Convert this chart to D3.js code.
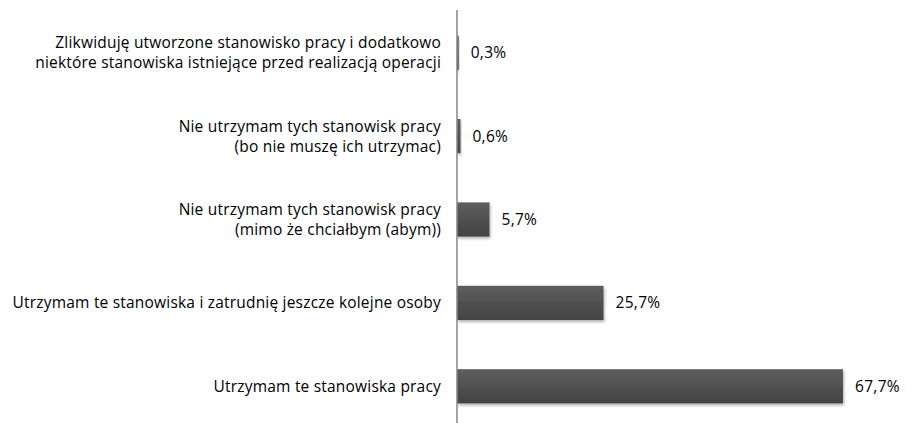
<!DOCTYPE html>
<html>
<head>
<meta charset="utf-8">
<script src="https://cdn.jsdelivr.net/npm/d3@7"></script>
<style>
  body { margin: 0; background: #fff; }
  svg { display: block; font-family: "Open Sans", sans-serif; }
</style>
</head>
<body>
<svg id="chart"></svg>
<script>
var categories = [
    ["Zlikwiduję utworzone stanowisko pracy i dodatkowo", "niektóre stanowiska istniejące przed realizacją operacji"],
    ["Nie utrzymam tych stanowisk pracy", "(bo nie muszę ich utrzymac)"],
    ["Nie utrzymam tych stanowisk pracy", "(mimo że chciałbym (abym))"],
    ["Utrzymam te stanowiska i zatrudnię jeszcze kolejne osoby"],
    ["Utrzymam te stanowiska pracy"]
]
var values = [0.3, 0.6, 5.7, 25.7, 67.7]
var valueLabels = ["0,3%", "0,6%", "5,7%", "25,7%", "67,7%"]

var dimensions = {
    width: 907,
    height: 423,
    margin: { top: 11, bottom: -5, left: 457, right: 50 }
}
var fontSize = 15.5

var svg = d3.select("#chart")
    .attr("width", dimensions.width)
    .attr("height", dimensions.height)

var defs = svg.append("defs")
var grad = defs.append("linearGradient")
    .attr("id", "barGrad")
    .attr("x1", 0).attr("y1", 0).attr("x2", 0).attr("y2", 1)
grad.append("stop").attr("offset", "0%").attr("stop-color", "#5e5e5e")
grad.append("stop").attr("offset", "100%").attr("stop-color", "#434343")

var shadow = defs.append("filter")
    .attr("id", "shadow")
    .attr("x", "-10%").attr("y", "-20%").attr("width", "130%").attr("height", "160%")
shadow.append("feDropShadow")
    .attr("dx", 1).attr("dy", 2).attr("stdDeviation", 1.5)
    .attr("flood-color", "#000").attr("flood-opacity", 0.3)

var idx = d3.range(values.length)

var xScale = d3.scaleLinear()
    .domain([0, 67.7])
    .range([dimensions.margin.left, 843])

var yScale = d3.scaleBand()
    .domain(idx)
    .range([dimensions.margin.top, dimensions.height - dimensions.margin.bottom])
    .paddingInner(0.59)
    .paddingOuter(0.295)

var bars = svg.append("g")
    .selectAll("rect")
    .data(idx)
    .enter()
    .append("rect")
    .attr("x", xScale(0))
    .attr("y", i => yScale(i))
    .attr("width", i => Math.max(1, xScale(values[i]) - xScale(0)))
    .attr("height", yScale.bandwidth())
    .attr("fill", "url(#barGrad)")
    .attr("filter", "url(#shadow)")

var valueText = svg.append("g")
    .selectAll("text")
    .data(idx)
    .enter()
    .append("text")
    .attr("x", i => xScale(values[i]) + 12)
    .attr("y", i => yScale(i) + yScale.bandwidth() / 2)
    .attr("dy", "0.35em")
    .attr("font-size", fontSize)
    .attr("letter-spacing", 0.3)
    .attr("fill", "#000")
    .text(i => valueLabels[i])

var catText = svg.append("g")
    .selectAll("text")
    .data(idx)
    .enter()
    .append("text")
    .attr("text-anchor", "end")
    .attr("font-size", fontSize)
    .attr("letter-spacing", 0.2)
    .attr("fill", "#000")
    .attr("y", i => yScale(i) + yScale.bandwidth() / 2)
catText.each(function(i) {
    var lines = categories[i]
    var t = d3.select(this)
    lines.forEach((line, k) => {
        t.append("tspan")
            .attr("x", 441)
            .attr("dy", k === 0 ? (0.35 * fontSize - (lines.length - 1) * 10) + "px" : "20px")
            .text(line)
    })
})

// axis line
svg.append("line")
    .attr("x1", xScale(0)).attr("x2", xScale(0))
    .attr("y1", 10).attr("y2", dimensions.height)
    .attr("stroke", "#868686")
    .attr("stroke-width", 1.5)
</script>
</body>
</html>
